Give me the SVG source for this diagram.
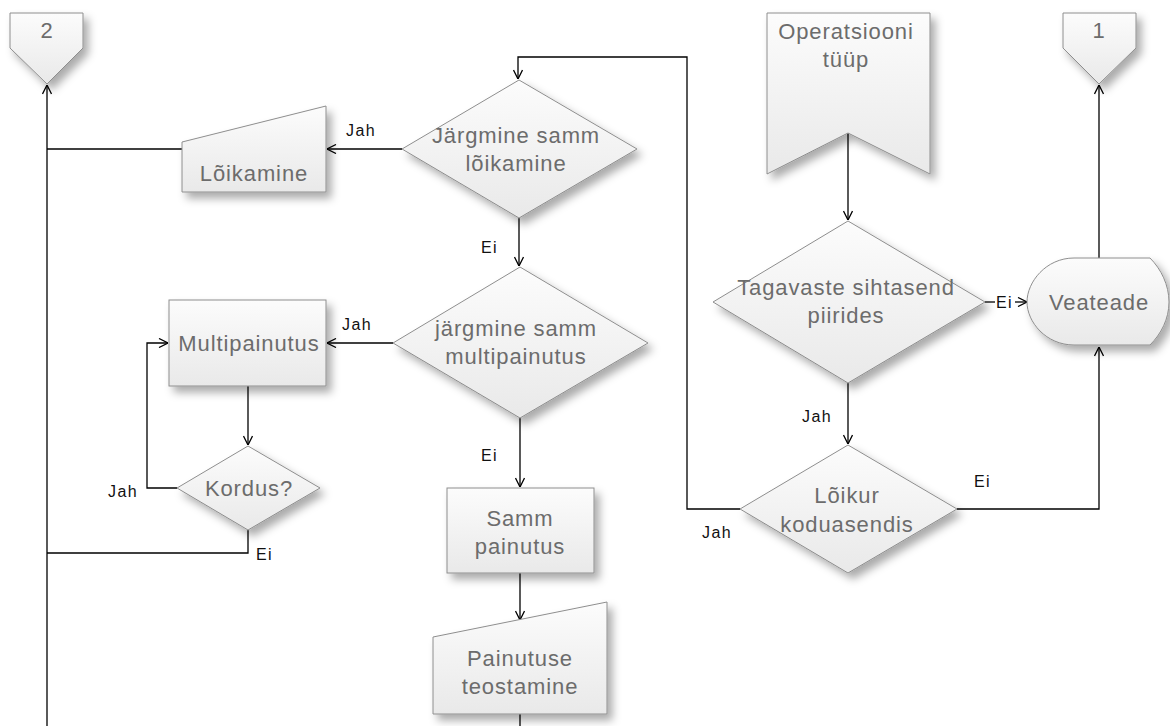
<svg xmlns="http://www.w3.org/2000/svg" width="1170" height="726" viewBox="0 0 1170 726">
  <defs>
    <linearGradient id="fill" x1="0" y1="0" x2="0" y2="1">
      <stop offset="0" stop-color="#fcfcfc"/>
      <stop offset="1" stop-color="#e9e9e9"/>
    </linearGradient>
    <filter id="shadow" x="-20%" y="-20%" width="150%" height="160%">
      <feDropShadow dx="5" dy="6" stdDeviation="4" flood-color="#000" flood-opacity="0.33"/>
    </filter>
    <marker id="arrow" viewBox="0 0 10 10" refX="10" refY="5" markerWidth="10" markerHeight="10" markerUnits="userSpaceOnUse" orient="auto">
      <path d="M1,0.5 L10,5 L1,9.5" fill="none" stroke="#000" stroke-width="1.3"/>
    </marker>
    <style>
      .shape { fill: url(#fill); stroke: #8e8e8e; stroke-width: 1; filter: url(#shadow); }
      .txt { font-family: "Liberation Sans", Arial, sans-serif; font-size: 22px; fill: #6c6c6c; text-anchor: middle; letter-spacing: 0.9px; }
      .lbl { font-family: "Liberation Sans", Arial, sans-serif; font-size: 16px; fill: #111; letter-spacing: 1.4px; }
      .conn { fill: none; stroke: #000; stroke-width: 1.3; }
    </style>
  </defs>

  <rect width="1170" height="726" fill="#fff"/>

  <!-- connectors -->
  <g id="connectors">
    <path class="conn" d="M47,726 V85" marker-end="url(#arrow)"/>
    <path class="conn" d="M402,149 H327" marker-end="url(#arrow)"/>
    <path class="conn" d="M182,149 H47"/>
    <path class="conn" d="M519,218 V266" marker-end="url(#arrow)"/>
    <path class="conn" d="M393,343 H327" marker-end="url(#arrow)"/>
    <path class="conn" d="M248,386 V445" marker-end="url(#arrow)"/>
    <path class="conn" d="M177,488 H147 V343 H168" marker-end="url(#arrow)"/>
    <path class="conn" d="M248,530 V553 H47"/>
    <path class="conn" d="M520,418 V487" marker-end="url(#arrow)"/>
    <path class="conn" d="M520,573 V620" marker-end="url(#arrow)"/>
    <path class="conn" d="M520,714 V726"/>
    <path class="conn" d="M848,133 V220" marker-end="url(#arrow)"/>
    <path class="conn" d="M985,302 H995"/>
    <path class="conn" d="M1015,302 H1027" marker-end="url(#arrow)"/>
    <path class="conn" d="M848,383 V444" marker-end="url(#arrow)"/>
    <path class="conn" d="M740,509 H687 V57 H518 V79" marker-end="url(#arrow)"/>
    <path class="conn" d="M957,509 H1099 V347" marker-end="url(#arrow)"/>
    <path class="conn" d="M1099,258 V85" marker-end="url(#arrow)"/>

    <text class="lbl" x="346" y="136">Jah</text>
    <text class="lbl" x="481" y="253">Ei</text>
    <text class="lbl" x="342" y="330">Jah</text>
    <text class="lbl" x="481" y="461">Ei</text>
    <text class="lbl" x="108" y="497">Jah</text>
    <text class="lbl" x="256" y="560">Ei</text>
    <text class="lbl" x="996" y="308">Ei</text>
    <text class="lbl" x="802" y="422">Jah</text>
    <text class="lbl" x="974" y="487">Ei</text>
    <text class="lbl" x="702" y="538">Jah</text>
  </g>

  <!-- off-page connector 2 -->
  <g id="offpage-2">
    <path class="shape" d="M10,13 H83 V48 L47,84 L10,48 Z"/>
    <text class="txt" x="47" y="38">2</text>
  </g>

  <!-- off-page connector 1 -->
  <g id="offpage-1">
    <path class="shape" d="M1063,13 H1136 V48 L1099,84 L1063,48 Z"/>
    <text class="txt" x="1099" y="38">1</text>
  </g>

  <!-- operation type -->
  <g id="operatsiooni-tyyp">
    <path class="shape" d="M767,13 H930 V174 L848,133 L767,174 Z"/>
    <text class="txt" x="846" y="39">Operatsiooni</text>
    <text class="txt" x="846" y="67">tüüp</text>
  </g>

  <!-- decision: next step cutting -->
  <g id="jargmine-loikamine">
    <path class="shape" d="M519,80 L637,149 L519,218 L402,149 Z"/>
    <text class="txt" x="516" y="143">Järgmine samm</text>
    <text class="txt" x="516" y="171">lõikamine</text>
  </g>

  <!-- manual input: cutting -->
  <g id="loikamine">
    <path class="shape" d="M182,142 L326,106 V192 H182 Z"/>
    <text class="txt" x="254" y="181">Lõikamine</text>
  </g>

  <!-- decision: next step multi-bend -->
  <g id="jargmine-multipainutus">
    <path class="shape" d="M520,267 L648,343 L520,418 L393,343 Z"/>
    <text class="txt" x="516" y="336">järgmine samm</text>
    <text class="txt" x="516" y="364">multipainutus</text>
  </g>

  <!-- process: multi-bend -->
  <g id="multipainutus">
    <rect class="shape" x="169" y="300" width="157" height="86"/>
    <text class="txt" x="249" y="351">Multipainutus</text>
  </g>

  <!-- decision: repeat -->
  <g id="kordus">
    <path class="shape" d="M248,446 L320,488 L248,530 L177,488 Z"/>
    <text class="txt" x="249" y="496">Kordus?</text>
  </g>

  <!-- process: bend step -->
  <g id="samm-painutus">
    <rect class="shape" x="447" y="488" width="147" height="85"/>
    <text class="txt" x="520" y="526">Samm</text>
    <text class="txt" x="520" y="554">painutus</text>
  </g>

  <!-- manual input: perform bending -->
  <g id="painutuse-teostamine">
    <path class="shape" d="M433,637 L607,602 V714 H433 Z"/>
    <text class="txt" x="520" y="666">Painutuse</text>
    <text class="txt" x="520" y="694">teostamine</text>
  </g>

  <!-- decision: supports within limits -->
  <g id="tagavaste-sihtasend">
    <path class="shape" d="M848,221 L985,302 L848,383 L713,302 Z"/>
    <text class="txt" x="846" y="295">Tagavaste sihtasend</text>
    <text class="txt" x="846" y="323">piirides</text>
  </g>

  <!-- display: error message -->
  <g id="veateade">
    <path class="shape" d="M1074,258 H1150 C1161,269 1169,285 1169,302 C1169,319 1161,334 1150,345 H1074 C1046,345 1027,322 1027,302 C1027,282 1046,258 1074,258 Z"/>
    <text class="txt" x="1099" y="310">Veateade</text>
  </g>

  <!-- decision: cutter at home position -->
  <g id="loikur-koduasendis">
    <path class="shape" d="M848,445 L957,509 L848,573 L740,509 Z"/>
    <text class="txt" x="847" y="503">Lõikur</text>
    <text class="txt" x="847" y="532">koduasendis</text>
  </g>
</svg>
